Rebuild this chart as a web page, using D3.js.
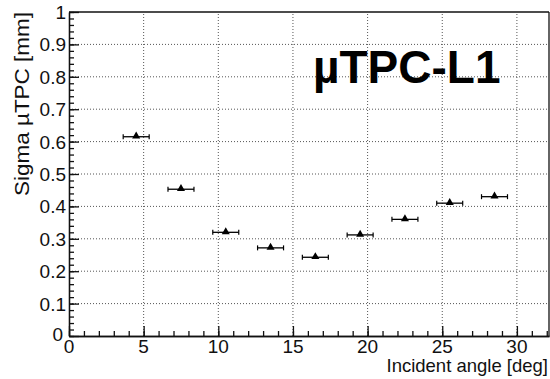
<!DOCTYPE html>
<html>
<head>
<meta charset="utf-8">
<script src="https://cdn.jsdelivr.net/npm/d3@7"></script>
<style>
  body { margin: 0; background: #fff; }
  text { font-family: "Liberation Sans", Arial, sans-serif; }
</style>
</head>
<body>
<div id="content"></div>
<script>
// incident angle bins (deg) and sigma (mm)
const angle = [4.5, 7.5, 10.5, 13.5, 16.5, 19.5, 22.5, 25.5, 28.5];
const sigma = [0.615, 0.453, 0.320, 0.272, 0.243, 0.312, 0.360, 0.410, 0.430];
const angleErr = [0.87, 0.87, 0.87, 0.87, 0.87, 0.87, 0.87, 0.87, 0.87];

const xTicks = [0, 5, 10, 15, 20, 25, 30];
const yTicks = [0, 0.1, 0.2, 0.3, 0.4, 0.5, 0.6, 0.7, 0.8, 0.9, 1];
const yTickLabels = ["0", "0.1", "0.2", "0.3", "0.4", "0.5", "0.6", "0.7", "0.8", "0.9", "1"];

const w = 550;
const h = 379;

const xScale = d3.scaleLinear()
  .domain([0, 32.15])
  .range([69, 549]);

const yScale = d3.scaleLinear()
  .domain([0, 1])
  .range([336, 12]);

const svg = d3.select("#content")
  .append("svg")
  .attr("width", w)
  .attr("height", h);

// grid
svg.append("g")
  .selectAll("line")
  .data(xTicks.filter(d => d > 0))
  .enter()
  .append("line")
  .attr("x1", d => xScale(d)).attr("x2", d => xScale(d))
  .attr("y1", yScale(0)).attr("y2", yScale(1))
  .attr("stroke", "#555").attr("stroke-width", 1)
  .attr("stroke-dasharray", "1,2");

svg.append("g")
  .selectAll("line")
  .data(yTicks.filter(d => d > 0 && d < 1))
  .enter()
  .append("line")
  .attr("x1", xScale.range()[0]).attr("x2", xScale.range()[1])
  .attr("y1", d => yScale(d)).attr("y2", d => yScale(d))
  .attr("stroke", "#555").attr("stroke-width", 1)
  .attr("stroke-dasharray", "1,2");

// axes, ticks pointing into the frame
const xAxis = d3.axisTop(xScale)
  .tickValues(xTicks)
  .tickFormat("")
  .tickSize(10)
  .tickSizeOuter(0);
const xMinor = d3.axisTop(xScale)
  .tickValues(d3.range(0, 33, 1))
  .tickFormat("")
  .tickSize(5)
  .tickSizeOuter(0);

const yAxis = d3.axisRight(yScale)
  .tickValues(yTicks)
  .tickFormat("")
  .tickSize(10)
  .tickSizeOuter(0);
const yMinor = d3.axisRight(yScale)
  .tickValues(d3.range(0, 51, 1).map(i => i * 0.02))
  .tickFormat("")
  .tickSize(5)
  .tickSizeOuter(0);

[xAxis, xMinor].forEach(a => {
  svg.append("g")
    .attr("transform", `translate(0, ${yScale(0)})`)
    .call(a)
    .call(g => g.selectAll("line, path").attr("stroke", "#111").attr("stroke-width", 1.3));
});
[yAxis, yMinor].forEach(a => {
  svg.append("g")
    .attr("transform", `translate(${xScale(0)}, 0)`)
    .call(a)
    .call(g => g.selectAll("line, path").attr("stroke", "#111").attr("stroke-width", 1.3));
});

// frame top / right
svg.append("line")
  .attr("x1", xScale(0)).attr("x2", xScale.range()[1])
  .attr("y1", yScale(1)).attr("y2", yScale(1))
  .attr("stroke", "#111").attr("stroke-width", 1.3);
svg.append("line")
  .attr("x1", xScale.range()[1]).attr("x2", xScale.range()[1])
  .attr("y1", yScale(1)).attr("y2", yScale(0))
  .attr("stroke", "#111").attr("stroke-width", 1.3);

// tick labels
svg.append("g")
  .selectAll("text")
  .data(xTicks)
  .enter()
  .append("text")
  .attr("x", d => xScale(d))
  .attr("y", 353)
  .attr("text-anchor", "middle")
  .attr("font-size", 19)
  .attr("fill", "#111")
  .text(d => d);

svg.append("g")
  .selectAll("text")
  .data(yTicks)
  .enter()
  .append("text")
  .attr("x", d => d === 0 ? xScale(0) - 6 : xScale(0) - 3)
  .attr("y", d => d === 0 ? yScale(d) + 5 : yScale(d) + 7)
  .attr("text-anchor", "end")
  .attr("font-size", 19)
  .attr("fill", "#111")
  .text((d, i) => yTickLabels[i]);

// axis titles
svg.append("text")
  .attr("x", 548)
  .attr("y", 372)
  .attr("text-anchor", "end")
  .attr("font-size", 18.5)
  .attr("fill", "#111")
  .text("Incident angle [deg]");

svg.append("text")
  .attr("transform", "translate(29, 12) rotate(-90)")
  .attr("text-anchor", "end")
  .attr("font-size", 20)
  .attr("textLength", 184)
  .attr("lengthAdjust", "spacingAndGlyphs")
  .attr("fill", "#111")
  .text("Sigma \u00b5TPC [mm]");

// big label
svg.append("text")
  .attr("x", 313)
  .attr("y", 83)
  .attr("font-size", 46)
  .attr("font-weight", "bold")
  .attr("fill", "#000")
  .text("\u00b5TPC-L1");

// error bars
const pts = svg.append("g")
  .selectAll("g")
  .data(angle)
  .enter()
  .append("g");

pts.append("line")
  .attr("x1", (d, i) => xScale(d - angleErr[i]))
  .attr("x2", (d, i) => xScale(d + angleErr[i]))
  .attr("y1", (d, i) => yScale(sigma[i]))
  .attr("y2", (d, i) => yScale(sigma[i]))
  .attr("stroke", "#000").attr("stroke-width", 1.3);

pts.append("line")
  .attr("x1", (d, i) => xScale(d - angleErr[i]))
  .attr("x2", (d, i) => xScale(d - angleErr[i]))
  .attr("y1", (d, i) => yScale(sigma[i]) - 2.5)
  .attr("y2", (d, i) => yScale(sigma[i]) + 2.5)
  .attr("stroke", "#000").attr("stroke-width", 1.2);

pts.append("line")
  .attr("x1", (d, i) => xScale(d + angleErr[i]))
  .attr("x2", (d, i) => xScale(d + angleErr[i]))
  .attr("y1", (d, i) => yScale(sigma[i]) - 2.5)
  .attr("y2", (d, i) => yScale(sigma[i]) + 2.5)
  .attr("stroke", "#000").attr("stroke-width", 1.2);

// triangle markers
pts.append("path")
  .attr("d", d3.symbol().type(d3.symbolTriangle).size(28))
  .attr("transform", (d, i) => `translate(${xScale(d)}, ${yScale(sigma[i]) - 0.5})`)
  .attr("fill", "#000");
</script>
</body>
</html>
